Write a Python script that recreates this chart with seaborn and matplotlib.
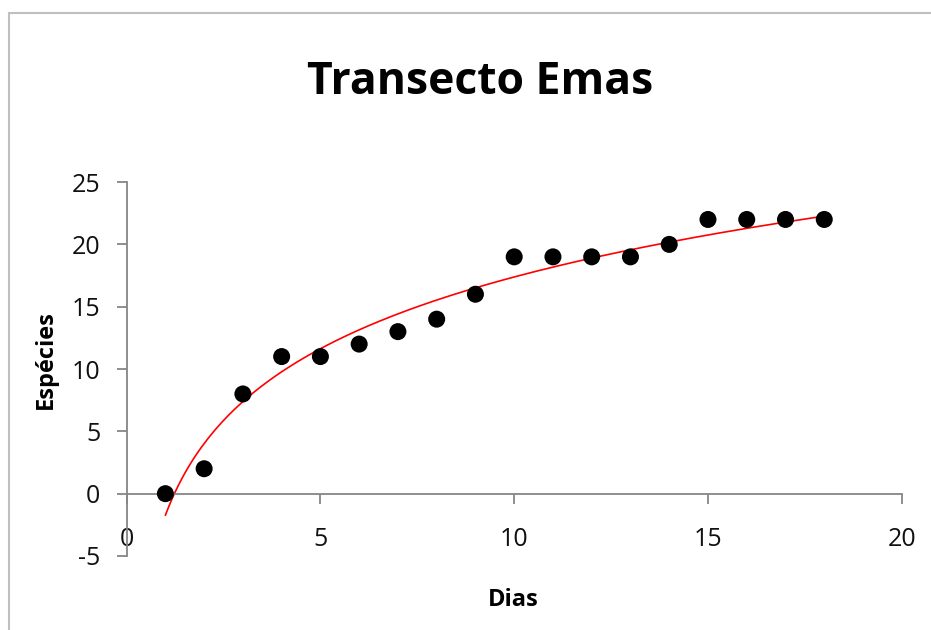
import numpy as np
import pandas as pd
import matplotlib
matplotlib.use("Agg")
import matplotlib.pyplot as plt
from matplotlib.patches import Rectangle
import seaborn as sns

# Data
dias = [1, 2, 3, 4, 5, 6, 7, 8, 9, 10, 11, 12, 13, 14, 15, 16, 17, 18]
especies = [0, 2, 8, 11, 11, 12, 13, 14, 16, 19, 19, 19, 19, 20, 22, 22, 22, 22]
x_ticks = [0, 5, 10, 15, 20]
y_ticks = [-5, 0, 5, 10, 15, 20, 25]

df = pd.DataFrame({"Dias": dias, "Espécies": especies})

# Logarithmic trendline (like Excel)
a, b = np.polyfit(np.log(df["Dias"]), df["Espécies"], 1)
xs = np.linspace(min(dias), max(dias), 200)
trend = pd.DataFrame({"Dias": xs, "Espécies": a * np.log(xs) + b})

sns.set_style("white")
plt.rcParams["font.family"] = ["Open Sans", "DejaVu Sans"]
plt.rcParams["axes.unicode_minus"] = False

fig = plt.figure(figsize=(9.31, 6.3), dpi=100)
ax = fig.add_axes([0.136, 0.1175, 0.8326, 0.5935])

sns.lineplot(data=trend, x="Dias", y="Espécies", color="#ff0000", lw=1.2, ax=ax)
sns.scatterplot(data=df, x="Dias", y="Espécies", color="black", s=150,
                edgecolor="none", ax=ax, zorder=3)

ax.set_xlim(0, 20)
ax.set_ylim(-5, 25)
ax.set_xticks(x_ticks)
ax.set_yticks(y_ticks)

ax.spines["top"].set_visible(False)
ax.spines["right"].set_visible(False)
ax.spines["bottom"].set_position(("data", 0))
for s in ["left", "bottom"]:
    ax.spines[s].set_color("#868686")
    ax.spines[s].set_linewidth(1.3)

ax.tick_params(axis="both", which="major", direction="out", length=7,
               width=1.3, color="#868686", labelsize=18, labelcolor="#111111",
               left=True, bottom=True)
ax.tick_params(axis="x", pad=17)
ax.tick_params(axis="y", pad=12)

ax.set_xlabel("")
ax.set_ylabel("")
fig.text(513 / 931, 1 - 600 / 630, "Dias", ha="center", va="center",
         fontsize=17, fontweight="bold", color="black")
fig.text(46 / 931, 1 - 360 / 630, "Espécies", ha="center", va="center",
         rotation=90, fontsize=17, fontweight="bold", color="black")
fig.text(480 / 931, 1 - 82 / 630, "Transecto Emas", ha="center", va="center",
         fontsize=32, fontweight="bold", color="black")

# chart border
fig.add_artist(Rectangle((9 / 931, -0.05), 1.2, 0.979 + 0.05,
                         transform=fig.transFigure, fill=False,
                         edgecolor="#bfbfbf", lw=1.5))

fig.savefig("out.png", dpi=100)
